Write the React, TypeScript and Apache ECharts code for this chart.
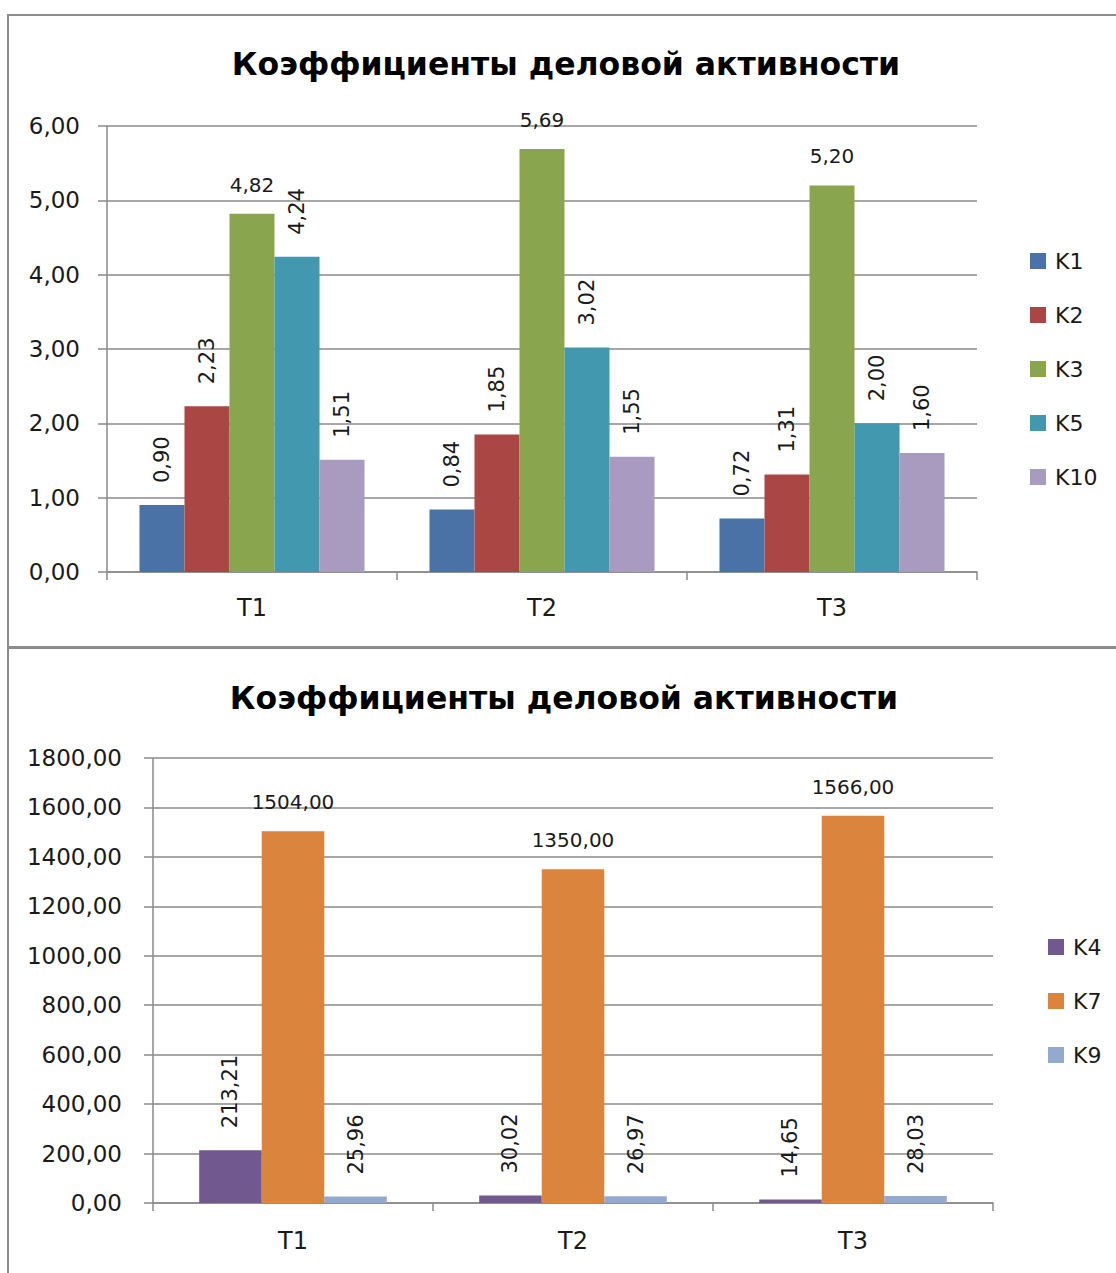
import React, { useEffect, useRef } from "react";
import * as echarts from "echarts";

const categories = ["T1", "T2", "T3"];

const topNames = ["K1", "K2", "K3", "K5", "K10"];
const k1 = [0.9, 0.84, 0.72];
const k2 = [2.23, 1.85, 1.31];
const k3 = [4.82, 5.69, 5.2];
const k5 = [4.24, 3.02, 2.0];
const k10 = [1.51, 1.55, 1.6];
const topColors = ["#4A72A6", "#AA4643", "#89A54E", "#4198AF", "#A99BBF"];
const topHorizontal = [false, false, true, false, false];

const bottomNames = ["K4", "K7", "K9"];
const k4 = [213.21, 30.02, 14.65];
const k7 = [1504.0, 1350.0, 1566.0];
const k9 = [25.96, 26.97, 28.03];
const bottomColors = ["#71588F", "#DB843D", "#93A9CF"];
const bottomHorizontal = [false, true, false];

const topTicks = { min: 0, max: 6, interval: 1 };
const bottomTicks = { min: 0, max: 1800, interval: 200 };

const FONT = "DejaVu Sans";
const TXT = "#1a1a1a";
const GRID = "#8a8a8a";

const fmt = (v: number) => v.toFixed(2).replace(".", ",");

function makeSeries(
  names: string[],
  data: number[][],
  colors: string[],
  horiz: boolean[],
  axisIndex: number,
  catGap: string
) {
  return names.map((name, i) => ({
    type: "bar",
    name,
    xAxisIndex: axisIndex,
    yAxisIndex: axisIndex,
    data: data[i],
    barGap: "0%",
    barCategoryGap: catGap,
    itemStyle: { color: colors[i] },
    label: horiz[i]
      ? {
          show: true,
          position: "top",
          distance: 19,
          formatter: (p: any) => fmt(p.value),
          color: TXT,
          fontFamily: FONT,
          fontSize: 20,
        }
      : {
          show: true,
          position: "top",
          distance: 22,
          rotate: 90,
          align: "left",
          verticalAlign: "middle",
          formatter: (p: any) => fmt(p.value),
          color: TXT,
          fontFamily: FONT,
          fontSize: 21,
        },
  }));
}

function xAxis(gridIndex: number, margin: number) {
  return {
    type: "category",
    gridIndex,
    data: categories,
    axisLine: { lineStyle: { color: GRID, width: 1.5 } },
    axisTick: { show: true, length: 8, lineStyle: { color: GRID, width: 1.5 } },
    axisLabel: { color: TXT, fontFamily: FONT, fontSize: 24, margin },
  };
}

function yAxis(gridIndex: number, t: { min: number; max: number; interval: number }, margin: number) {
  return {
    type: "value",
    gridIndex,
    min: t.min,
    max: t.max,
    interval: t.interval,
    axisLine: { show: true, lineStyle: { color: GRID, width: 1.5 } },
    axisTick: { show: true, length: 9, lineStyle: { color: GRID, width: 1.5 } },
    splitLine: { show: true, lineStyle: { color: GRID, width: 1.5 } },
    axisLabel: {
      color: TXT,
      fontFamily: FONT,
      fontSize: 23,
      margin,
      formatter: (v: number) => fmt(v),
    },
  };
}

export default function App() {
  const ref = useRef<HTMLDivElement>(null);
  useEffect(() => {
    if (!ref.current) return;
    const chart = echarts.init(ref.current, null, { renderer: "svg" });
    const legendText = {
      color: TXT,
      fontFamily: FONT,
      fontSize: 22,
      padding: [0, 0, 0, 4],
    };
    chart.setOption({
      animation: false,
      backgroundColor: "#ffffff",
      title: [
        {
          text: "Коэффициенты деловой активности",
          left: 561,
          top: 43,
          textAlign: "center",
          textStyle: { fontFamily: FONT, fontSize: 31.5, fontWeight: "bold", color: "#000" },
        },
        {
          text: "Коэффициенты деловой активности",
          left: 559,
          top: 677,
          textAlign: "center",
          textStyle: { fontFamily: FONT, fontSize: 31.5, fontWeight: "bold", color: "#000" },
        },
      ],
      legend: [
        {
          orient: "vertical",
          left: 1025,
          top: 245,
          itemWidth: 16,
          itemHeight: 16,
          itemGap: 32,
          icon: "rect",
          data: topNames,
          textStyle: legendText,
        },
        {
          orient: "vertical",
          left: 1043,
          top: 931,
          itemWidth: 16,
          itemHeight: 16,
          itemGap: 32,
          icon: "rect",
          data: bottomNames,
          textStyle: legendText,
        },
      ],
      grid: [
        { left: 107, top: 126, width: 870, height: 446 },
        { left: 153, top: 758, width: 840, height: 445 },
      ],
      xAxis: [xAxis(0, 24), xAxis(1, 26)],
      yAxis: [yAxis(0, topTicks, 27), yAxis(1, bottomTicks, 31)],
      graphic: [
        {
          type: "rect",
          shape: { x: 8, y: 15, width: 1130, height: 632 },
          style: { fill: "none", stroke: "#8c8c8c", lineWidth: 2 },
          silent: true,
        },
        {
          type: "rect",
          shape: { x: 8, y: 648, width: 1130, height: 660 },
          style: { fill: "none", stroke: "#8c8c8c", lineWidth: 2 },
          silent: true,
        },
      ],
      series: [
        ...makeSeries(topNames, [k1, k2, k3, k5, k10], topColors, topHorizontal, 0, "22.4%"),
        ...makeSeries(bottomNames, [k4, k7, k9], bottomColors, bottomHorizontal, 1, "33%"),
      ],
    });
    return () => chart.dispose();
  }, []);
  return (
    <div
      ref={ref}
      style={{ position: "absolute", left: 0, top: 0, width: 1116, height: 1273 }}
    />
  );
}
